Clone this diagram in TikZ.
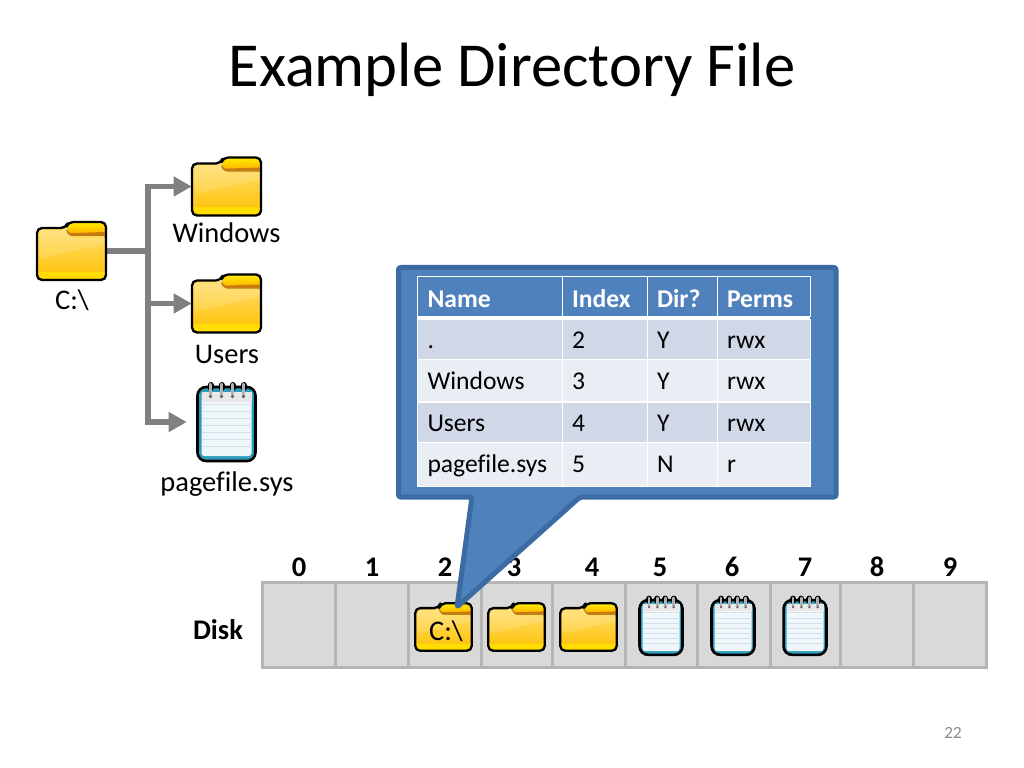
\documentclass[tikz,border=0pt]{standalone}
\usepackage{fontspec}
\setmainfont[Ligatures=NoCommon]{Carlito}
\usetikzlibrary{arrows.meta}

\newcommand{\px}{.703125pt}

\definecolor{slateblue}{HTML}{4F81BD}
\definecolor{slateedge}{HTML}{3C6AA3}
\definecolor{rowdark}{HTML}{D0D8E8}
\definecolor{rowlight}{HTML}{E9EDF4}
\definecolor{treegray}{HTML}{808080}
\definecolor{diskfill}{HTML}{D9D9D9}
\definecolor{diskedge}{HTML}{B5B5B5}
\definecolor{foldertop}{HTML}{FFDF70}
\definecolor{foldermid}{HTML}{FFC800}
\definecolor{folderlow}{HTML}{FFC000}
\definecolor{folderlip}{HTML}{FFDD00}
\definecolor{tabdark}{HTML}{C97B10}
\definecolor{noteteal}{HTML}{2C9CBC}
\definecolor{notepaper}{HTML}{F0F7FB}
\definecolor{noteline}{HTML}{D2E0EA}

\tikzset{
  folder/.pic={
    % back of the folder with its tab
    \fill[rounded corners=3pt, top color=yellow!85!orange, bottom color=orange!85!yellow]
      (-4,-29) -- (34.5,-29) -- (34.5,-10) -- (-4,-10) -- cycle;
    \fill[tabdark] (-5,-23) .. controls (-3,-17) and (-1,-18) .. (3,-18) -- (33,-19) -- (33,-15) -- (-5,-15) -- cycle;
    % front of the folder
    \fill[rounded corners=2pt, top color=foldertop, middle color=foldermid, bottom color=folderlow]
      (-34.5,-23) -- (-6,-23) .. controls (-4,-16) and (-1,-15) .. (3,-15) -- (34.5,-15) -- (34.5,29) -- (-34.5,29) -- cycle;
    \fill[white, opacity=.14] (-32,-20) -- (-6,-20) -- (3,-13) -- (33,-13) -- (33,-7) -- (-32,8) -- cycle;
    \fill[folderlip] (-33,21) rectangle (33,27.5);
    \draw[rounded corners=3.5pt, line width=2.3*\px, line join=round]
      (-34.5,-23) -- (-5.5,-23) -- (-3.5,-29) -- (34.5,-29) -- (34.5,29) -- (-34.5,29) -- cycle;
  },
  note/.pic={
    \draw[rounded corners=6pt, line width=2.6*\px, fill=noteteal] (-29,-35) rectangle (29,39);
    \fill[rounded corners=2pt, notepaper] (-25,-30) rectangle (25,34);
    \fill[black!9] (-25,-30) rectangle (25,-20);
    \foreach \lineY in {-18,-11,...,30} {
      \draw[noteline, line width=.7*\px] (-25,\lineY) -- (25,\lineY);
    }
    \foreach \ringX in {-16,-5,6,17} {
      \draw[line width=6*\px, line cap=round] (\ringX,-37) -- (\ringX,-34);
      \draw[black!30, line width=2.4*\px, line cap=round] (\ringX,-38) -- (\ringX,-27);
      \fill[black!60] (\ringX,-25.5) circle (1.8);
    }
  },
  treeline/.style={treegray, line width=5.5*\px},
  treearrow/.style={treeline, -{Triangle[length=18*\px, width=19*\px]}},
  folderbox/.style={inner sep=0pt, minimum width=69*\px, minimum height=58*\px},
  notebox/.style={inner sep=0pt, minimum width=59*\px, minimum height=78*\px},
  namelabel/.style={font=\fontsize{20}{24}\selectfont},
  disknum/.style={font=\fontsize{20}{24}\selectfont\bfseries},
  diskcell/.style={draw=diskedge, fill=diskfill, line width=3*\px, inner sep=0pt, minimum height=85*\px},
  tablecell/.style={draw=white, line width=1*\px, inner sep=0pt, align=left,
    font=\fontsize{18}{22}\selectfont},
  callout/.style={fill=slateblue, draw=slateedge, line width=5*\px, rounded corners=1.5pt, line join=round},
}

\begin{document}
\begin{tikzpicture}[x=\px, y=-\px]

  \useasboundingbox[fill=white] (0,0) rectangle (1024,768);

  \node[font=\fontsize{44}{52}\selectfont] (title) at (512,70) {Example Directory File};

  % the directory tree
  \node[folderbox] (cdrive)  at (71.5,251)   {};
  \node[folderbox] (windows) at (226.5,186.5) {};
  \node[folderbox] (users)   at (226.5,303.5) {};
  \node[notebox]   (pagefile) at (226.5,422) {};
  \coordinate (trunk) at (148,251);

  \draw[treeline] (cdrive.east) -- (trunk);
  \draw[treearrow] (trunk) |- (windows.west);
  \draw[treearrow] (trunk) |- (users.west);
  \draw[treearrow, shorten >=10*\px] (trunk) |- (pagefile.west);

  \pic at (cdrive) {folder};
  \pic at (windows) {folder};
  \pic at (users) {folder};
  \pic at (pagefile) {note};

  \node[namelabel] (cdrivetext)   at (72,300)  {C:\textbackslash};
  \node[namelabel] (windowstext)  at (226.5,233) {Windows};
  \node[namelabel] (userstext)    at (227,354.5) {Users};
  \node[namelabel] (pagefiletext) at (227,484.5) {pagefile.sys};

  % the disk
  \node[disknum] (disktext) at (218,630) {Disk};
  \foreach \left/\right/\num/\numX in {262/335/0/299, 335/408/1/372, 408/481/2/445, 481/552/3/514,
      552/625/4/592, 625/697/5/660, 697/770/6/732, 770/840/7/805, 840/913/8/877, 913/986/9/950} {
    \node[diskcell, minimum width={(\right-\left)*\px}] (cell\num) at ({(\left+\right)/2},624.5) {};
    \node[disknum] (num\num) at (\numX,567) {\num};
  }

  \pic[scale=.82] at (443.5,627) {folder};
  \pic[scale=.82] at (516.5,627) {folder};
  \pic[scale=.82] at (588.5,627) {folder};
  \pic[scale=.74] at (661,626) {note};
  \pic[scale=.74] at (733,626) {note};
  \pic[scale=.74] at (805,626) {note};
  \node[namelabel] (disktag) at (446,631) {C:\textbackslash};

  % the directory file
  \draw[callout] (398.5,267.5) -- (836,267.5) -- (836,497) -- (580,497) -- (457,607) -- (472,497)
    -- (398.5,497) -- cycle;

  \foreach \rowY/\rowH/\rowDrop/\rowName/\rowColor/\rowFont/\textColor/\a/\b/\c/\d in {
      297/40/2.8pt/hd/slateblue/\bfseries/white/Name/Index/Dir?/Perms,
      339.5/40/2.2pt/dot/rowdark//black/./2/Y/rwx,
      380.5/42/2.2pt/win/rowlight//black/Windows/3/Y/rwx,
      422/40/2.2pt/usr/rowdark//black/Users/4/Y/rwx,
      464/44/1.6pt/page/rowlight//black/pagefile.sys/5/N/r} {
    \foreach \colX/\colW/\colName/\colText in {490/145/a/\a, 604.5/85/b/\b, 682/70/c/\c, 763.5/93/d/\d} {
      \node[tablecell, fill=\rowColor, text=\textColor, minimum width=\colW*\px, minimum height=\rowH*\px,
        text width=(\colW-20)*\px] (\rowName\colName) at (\colX,\rowY) {\rowFont\strut\raisebox{-\rowDrop}{\colText}};
    }
  }
  \coordinate (hdleft) at (417,318.5);
  \coordinate (hdright) at (810,318.5);
  \draw[white, line width=3*\px] (hdleft) -- (hdright);

  \node[text=black!46, font=\fontsize{12}{14}\selectfont] (pagenum) at (953,733) {22};

\end{tikzpicture}
\end{document}
